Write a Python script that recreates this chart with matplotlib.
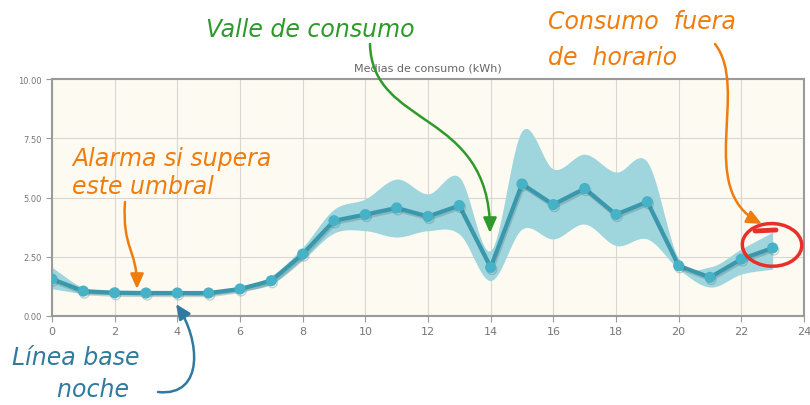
import numpy as np
import matplotlib.pyplot as plt
import matplotlib.patheffects as pe
from matplotlib.patches import Ellipse, FancyArrowPatch
from matplotlib.path import Path
from matplotlib.transforms import IdentityTransform
from matplotlib.lines import Line2D

hours = np.arange(24)
media = [1.56, 1.05, 0.98, 0.97, 0.97, 0.97, 1.14, 1.49, 2.61, 4.02, 4.28, 4.56,
         4.20, 4.66, 2.05, 5.57, 4.70, 5.38, 4.28, 4.82, 2.12, 1.63, 2.40, 2.87]
upper = [2.05, 1.20, 1.10, 1.08, 1.08, 1.08, 1.25, 1.70, 2.90, 4.50, 4.94, 5.78,
         5.15, 5.86, 2.76, 7.82, 6.20, 6.83, 6.07, 6.50, 2.40, 2.07, 2.83, 3.54]
lower = [1.15, 0.95, 0.90, 0.88, 0.88, 0.88, 1.05, 1.35, 2.35, 3.50, 3.60, 3.33,
         3.60, 3.46, 1.49, 3.67, 3.25, 3.88, 2.97, 3.25, 1.98, 1.22, 1.77, 1.98]
yticks = [0, 2.5, 5, 7.5, 10]
xticks = list(range(0, 25, 2))

W, H = 810, 406


def smooth(x, y, n=12):
    # catmull-rom curve through the points, only for drawing the band
    x = np.asarray(x, float)
    y = np.asarray(y, float)
    px = np.concatenate([[2 * x[0] - x[1]], x, [2 * x[-1] - x[-2]]])
    py = np.concatenate([[2 * y[0] - y[1]], y, [2 * y[-1] - y[-2]]])
    xs, ys = [], []
    t = np.linspace(0, 1, n, endpoint=False)
    for i in range(1, len(px) - 2):
        for arr, out in ((px, xs), (py, ys)):
            p0, p1, p2, p3 = arr[i - 1], arr[i], arr[i + 1], arr[i + 2]
            out.extend(0.5 * (2 * p1 + (-p0 + p2) * t + (2 * p0 - 5 * p1 + 4 * p2 - p3) * t ** 2
                              + (-p0 + 3 * p1 - 3 * p2 + p3) * t ** 3))
    xs.append(x[-1])
    ys.append(y[-1])
    return np.array(xs), np.array(ys)


fig = plt.figure(figsize=(8.1, 4.06), dpi=100)
ax = fig.add_axes([52 / W, 89 / H, 752 / W, 237 / H])
ax.set_facecolor('#fdfaf2')

sx, su = smooth(hours, upper)
_, sl = smooth(hours, lower)
ax.fill_between(sx, sl, su, color='#9fd5dd', lw=0, zorder=2)
ax.plot(hours, media, color='#3a98ad', lw=3, marker='o', ms=7,
        mfc='#47b2c5', mec='#47b2c5', zorder=3,
        path_effects=[pe.SimpleLineShadow(offset=(0.8, -1.5), shadow_color='#4f7077', alpha=0.3), pe.Normal()])

ax.set_xlim(0, 24)
ax.set_ylim(0, 10)
ax.set_xticks(xticks)
ax.set_yticks(yticks)
ax.set_yticklabels(['%.2f' % v for v in yticks])
ax.grid(color='#d8d6d0', lw=0.8)
ax.set_axisbelow(True)
for s in ax.spines.values():
    s.set_color('#9a9a9a')
    s.set_linewidth(1.5)
ax.tick_params(axis='y', labelsize=6, colors='#9a9a9a', labelcolor='#777777', length=4)
ax.tick_params(axis='x', labelsize=8, colors='#9a9a9a', labelcolor='#777777', length=4)
ax.set_title('Medias de consumo (kWh)', fontsize=8, color='#666666', pad=6)

hand = dict(family='DejaVu Sans', style='oblique', fontsize=17)
green = '#2f9a2b'
orange = '#ee7d0e'
blue = '#2f7a9e'

fig.text(310 / W, 1 - 30 / H, 'Valle de consumo', color=green, ha='center', va='center', **hand)
fig.text(548 / W, 1 - 40 / H, 'Consumo  fuera\nde  horario', color=orange, ha='left', va='center',
         linespacing=1.6, **hand)
fig.text(72 / W, 1 - 173 / H, 'Alarma si supera\neste umbral', color=orange, ha='left', va='center',
         linespacing=1.25, **hand)
fig.text(12 / W, 1 - 374 / H, 'Línea base\n      noche', color=blue, ha='left', va='center',
         linespacing=1.4, **hand)


def curve(pts, color):
    # cubic bezier arrow, points given in image pixels from the top-left
    verts = [(x, H - y) for x, y in pts]
    p = Path(verts, [Path.MOVETO, Path.CURVE4, Path.CURVE4, Path.CURVE4])
    fig.add_artist(FancyArrowPatch(path=p, transform=IdentityTransform(), color=color, lw=1.8,
                                   arrowstyle='-|>,head_width=4,head_length=9', shrinkA=0, shrinkB=0))


curve([(370, 45), (372, 130), (490, 110), (490, 234)], green)
curve([(715, 45), (750, 90), (695, 190), (762, 225)], orange)
curve([(125, 203), (122, 250), (137, 250), (137, 290)], orange)
curve([(158, 393), (205, 398), (200, 340), (176, 305)], blue)

ax.add_patch(Ellipse((22.98, 3.0), 1.9, 1.8, angle=-8, fill=False, ec='#e8302a', lw=2.5,
                     clip_on=False, zorder=5))
fig.add_artist(Line2D([755 / W, 776 / W], [1 - 232 / H, 1 - 231 / H], color='#e8302a', lw=3.5,
                      solid_capstyle='round'))

fig.savefig('out.png', dpi=100)
